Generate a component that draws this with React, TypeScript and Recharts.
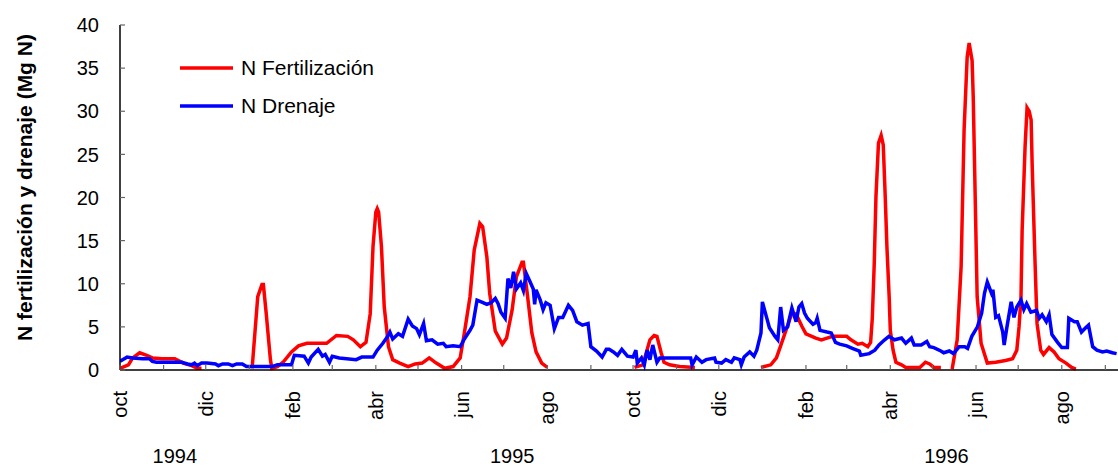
import React from 'react';
import { LineChart, Line, XAxis, YAxis, Legend } from 'recharts';

const FONT = '"Liberation Sans", Arial, Helvetica, sans-serif';

// Days counted from 1 Oct 1994
const monthStarts = [0, 31, 61, 92, 123, 151, 182, 212, 243, 273, 304, 335, 365, 396, 426, 457, 488, 517, 548, 578, 609, 639, 670, 701];
const monthLabels = ['oct', '', 'dic', '', 'feb', '', 'abr', '', 'jun', '', 'ago', '', 'oct', '', 'dic', '', 'feb', '', 'abr', '', 'jun', '', 'ago', ''];
const yearLabels = ['1994', '1995', '1996'];
const yearPos = [39, 279, 588];
const yTicks = [0, 5, 10, 15, 20, 25, 30, 35, 40];

const fertName = 'N Fertilización';
const drenName = 'N Drenaje';

const fertDays = [
  0, 6, 9, 14, 19, 23, 30, 39, 45, 51, 55, 58, 75,
  94, 98, 101, 102, 104, 107, 108, 112, 116, 122, 127, 133, 147, 154, 162, 166, 171, 175, 178, 180, 182, 183, 184, 186, 188, 191, 194, 199, 205, 210, 215, 220, 225, 231, 237, 242, 245, 249, 252, 256, 258, 261, 263, 267, 272, 275, 279, 282, 286, 287, 290, 293, 296, 300, 304, 330,
  366, 372, 377, 380, 382, 385, 387, 391, 398, 409, 430,
  456, 463, 467, 470, 474, 478, 481, 485, 488, 495, 499, 503, 507, 517, 520, 525, 528, 532, 534, 535.2, 536.6, 537.8, 539.6, 541.5, 543, 544.4, 545.6, 547.2, 548, 550, 552, 556, 559, 569, 573, 576, 579, 584, 588,
  592, 595.6, 598.4, 600.5, 602.7, 604.1, 606.2, 607, 608.4, 609.8, 612.6, 617, 623, 630, 635, 638, 639.6, 641, 641.8, 643.9, 645.3, 646.8, 648.2, 648.9, 651, 652.4, 655, 657, 661, 664.5, 668, 673, 677, 680,
];
const fertVals = [
  0.2, 0.6, 1.4, 2.0, 1.7, 1.4, 1.3, 1.3, 0.8, 0.5, 0.2, 0.2, null,
  0.2, 8.5, 9.9, 9.9, 6.6, 1.2, 0.2, 0.4, 0.9, 2.1, 2.8, 3.1, 3.1, 4.0, 3.9, 3.5, 2.7, 3.2, 6.5, 14.3, 18.3, 18.7, 18.3, 14.3, 7.3, 2.7, 1.2, 0.8, 0.4, 0.7, 0.8, 1.4, 0.8, 0.2, 0.4, 1.4, 4.3, 8.5, 13.9, 17.0, 16.6, 13.1, 8.9, 4.5, 3.0, 3.7, 7.0, 10.8, 12.5, 12.5, 8.5, 4.3, 2.1, 0.8, 0.3, null,
  0.3, 0.6, 3.5, 4.0, 3.9, 2.0, 0.9, 0.6, 0.4, 0.3, null,
  0.3, 0.6, 1.4, 2.8, 4.7, 6.6, 6.5, 5.1, 4.2, 3.7, 3.5, 3.7, 3.9, 3.9, 3.5, 3.0, 3.1, 2.7, 3.2, 6.0, 12.4, 20.1, 26.3, 27.2, 26.1, 20.1, 14.3, 8.5, 4.6, 2.3, 0.9, 0.6, 0.3, 0.3, 0.9, 0.7, 0.3, 0.3, null,
  0.1, 3.5, 12.0, 27.8, 36.3, 37.9, 35.9, 31.7, 20.1, 8.5, 3.1, 0.8, 0.9, 1.1, 1.3, 2.3, 5.0, 8.5, 16.2, 25.9, 30.4, 30.0, 29.0, 24.0, 12.4, 5.4, 2.3, 1.8, 2.6, 2.1, 1.3, 0.8, 0.3, 0.1,
];

const drenDays = [
  0, 4, 5, 9, 16, 21, 23, 26, 44, 48,
  51, 53, 55, 58, 62, 68, 70, 73, 77, 80,
  83, 87, 90, 101, 108, 112, 116, 122, 124, 131,
  134, 136, 141, 144, 146, 149, 151, 156, 168, 172,
  180, 183, 187, 190, 192, 194, 198, 201, 205, 208,
  211, 213, 216, 218, 222, 226, 230, 232, 237, 242,
  245, 249, 251, 254, 257, 261, 264, 267, 269, 271,
  274, 276, 278, 280, 282, 285, 287, 289, 291, 294,
  295, 296, 299, 301, 303, 306, 309, 312, 315, 319,
  322, 325, 329, 333, 335, 339, 343, 346, 348, 351,
  354, 357, 361, 365, 367, 368, 371, 373, 375, 377,
  379, 382, 384, 406, 407, 410, 414, 417, 423, 424,
  428, 431, 435, 437, 441, 442, 444, 448, 451, 453,
  456, 457, 460, 462, 466, 468, 470, 472, 475, 476,
  478, 481, 483, 485, 487, 489, 493, 495, 496, 498,
  503, 506, 509, 512, 517, 521, 526, 527, 533, 537,
  540, 544, 547, 551, 556, 559, 563, 565, 570, 574,
  576, 579, 584, 586, 590, 593, 597, 601, 603, 606,
  610, 613, 615, 617, 620, 621, 623, 625, 628, 629,
  631, 634, 636, 638, 641, 643, 645, 648, 652, 654,
  656, 659, 661, 663, 667, 670, 674, 675, 679, 681,
  684, 687, 689, 692, 695, 699, 702, 706, 709,
];
const drenVals = [
  1.0, 1.4, 1.5, 1.4, 1.3, 1.3, 1.0, 0.9, 0.9, 0.7,
  0.6, 0.8, 0.5, 0.8, 0.8, 0.7, 0.5, 0.7, 0.7, 0.5,
  0.7, 0.7, 0.4, 0.4, 0.4, 0.6, 0.6, 0.6, 1.7, 1.6,
  0.8, 1.5, 2.4, 1.6, 1.8, 0.9, 1.6, 1.4, 1.2, 1.5,
  1.5, 2.3, 3.1, 3.8, 4.4, 3.6, 4.2, 3.9, 5.9, 5.1,
  4.8, 4.1, 5.4, 3.4, 3.5, 3.0, 3.1, 2.7, 2.8, 2.7,
  3.6, 4.6, 5.2, 8.1, 7.9, 7.6, 7.8, 8.3, 7.7, 6.7,
  6.0, 10.6, 9.5, 11.4, 9.4, 10.1, 9.2, 11.2, 10.5, 9.4,
  7.6, 9.3, 8.1, 7.0, 7.8, 7.5, 4.8, 6.1, 6.1, 7.5,
  6.9, 5.6, 5.2, 5.4, 2.7, 2.2, 1.5, 2.4, 2.4, 2.1,
  1.7, 2.4, 1.6, 1.5, 2.3, 0.8, 1.4, 0.6, 2.3, 1.2,
  2.9, 0.9, 1.4, 1.4, 0.6, 1.5, 0.9, 1.2, 1.4, 0.9,
  0.8, 1.2, 0.9, 1.4, 1.2, 0.6, 1.5, 2.1, 1.6, 2.3,
  4.3, 7.9, 6.1, 4.9, 3.9, 3.5, 7.3, 4.6, 5.0, 5.8,
  7.2, 5.6, 7.3, 7.7, 6.6, 6.0, 5.3, 5.5, 6.0, 4.6,
  4.4, 4.3, 3.2, 3.0, 2.8, 2.5, 2.2, 1.7, 1.9, 2.3,
  2.9, 3.5, 3.9, 3.5, 3.7, 3.1, 3.7, 2.9, 2.9, 3.3,
  2.7, 2.6, 2.2, 2.0, 2.2, 1.9, 2.7, 2.7, 2.5, 3.9,
  5.0, 6.6, 8.9, 10.2, 8.9, 9.3, 6.1, 6.3, 4.4, 2.9,
  5.0, 7.9, 6.1, 7.3, 8.1, 7.0, 7.7, 6.7, 6.9, 6.0,
  6.4, 5.6, 6.4, 4.1, 3.2, 2.6, 2.6, 6.0, 5.6, 5.6,
  4.4, 4.9, 5.2, 2.7, 2.3, 2.1, 2.2, 2.0, 1.9,
];

const fertData = fertDays.map((d, i) => ({ d, v: fertVals[i] }));
const drenData = drenDays.map((d, i) => ({ d, v: drenVals[i] }));

const RED = '#FF0000';
const BLUE = '#0000FF';
const AXIS = '#000000';
const TICK = '#666666';

const MonthTick = (props: any) => {
  const { x, y, payload } = props;
  const i = monthStarts.indexOf(payload.value);
  const label = i >= 0 ? monthLabels[i] : '';
  return (
    <g>
      <line x1={x} y1={y} x2={x} y2={y - 5} stroke={TICK} strokeWidth={1.2} />
      {label ? (
        <text
          transform={`translate(${x},${y + 21}) rotate(-90)`}
          textAnchor="end"
          dy="0.35em"
          fontSize={20}
          fontFamily={FONT}
          fill="#000"
        >
          {label}
        </text>
      ) : null}
    </g>
  );
};

const YearTick = (props: any) => {
  const { x, y, payload } = props;
  const i = yearPos.indexOf(payload.value);
  return (
    <text x={x} y={y + 33} textAnchor="middle" fontSize={20} fontFamily={FONT} fill="#000">
      {i >= 0 ? yearLabels[i] : ''}
    </text>
  );
};

const YTick = (props: any) => {
  const { x, y, payload } = props;
  return (
    <g>
      <line x1={x} y1={y} x2={x + 5} y2={y} stroke={TICK} strokeWidth={1.2} />
      <text x={x - 21} y={y} dy="0.36em" textAnchor="end" fontSize={20} fontFamily={FONT} fill="#000">
        {payload.value}
      </text>
    </g>
  );
};

const renderLegend = () => {
  const items = [
    { name: fertName, color: RED },
    { name: drenName, color: BLUE },
  ];
  return (
    <div style={{ fontFamily: FONT, fontSize: 21, color: '#000' }}>
      {items.map((it, k) => (
        <div key={it.name} style={{ display: 'flex', alignItems: 'center', height: 24, marginTop: k === 0 ? 0 : 14 }}>
          <svg width={57} height={24} style={{ display: 'block' }}>
            <line x1={2} y1={12} x2={55} y2={12} stroke={it.color} strokeWidth={3.5} />
          </svg>
          <span style={{ marginLeft: 6, whiteSpace: 'nowrap' }}>{it.name}</span>
        </div>
      ))}
    </div>
  );
};

const YTitle = (props: any) => {
  const vb = props.viewBox || { x: 0, y: 25, width: 120, height: 345 };
  const cx = vb.x + 25;
  const cy = vb.y + vb.height / 2 - 10;
  return (
    <text
      transform={`translate(${cx},${cy}) rotate(-90)`}
      textAnchor="middle"
      dy="0.35em"
      fontSize={21}
      fontWeight="bold"
      fontFamily={FONT}
      fill="#000"
    >
      N fertilización y drenaje (Mg N)
    </text>
  );
};

export default function App() {
  return (
    <div style={{ position: 'absolute', left: 0, top: 0, width: 1118, height: 466, background: '#fff' }}>
      <LineChart width={1118} height={466} margin={{ top: 25, right: 0, bottom: 0, left: 0 }}>
        <XAxis
          dataKey="d"
          type="number"
          domain={[0, 710]}
          ticks={monthStarts}
          interval={0}
          allowDataOverflow
          height={60}
          tickSize={0}
          tickMargin={0}
          tickLine={false}
          axisLine={{ stroke: AXIS, strokeWidth: 1.5 }}
          tick={<MonthTick />}
        />
        <XAxis
          xAxisId="yr"
          dataKey="d"
          type="number"
          domain={[0, 710]}
          ticks={yearPos}
          interval={0}
          allowDataOverflow
          height={36}
          tickSize={0}
          tickMargin={0}
          tickLine={false}
          axisLine={false}
          tick={<YearTick />}
        />
        <YAxis
          type="number"
          domain={[0, 40]}
          ticks={yTicks}
          interval={0}
          width={120}
          tickSize={0}
          tickMargin={0}
          tickLine={false}
          axisLine={{ stroke: AXIS, strokeWidth: 1.5 }}
          tick={<YTick />}
          label={<YTitle />}
        />
        <Legend
          content={renderLegend}
          layout="vertical"
          verticalAlign="middle"
          align="center"
          wrapperStyle={{ position: 'absolute', left: 178, top: 56, width: 240, height: 'auto' }}
        />
        <Line
          data={fertData}
          dataKey="v"
          name={fertName}
          type="linear"
          stroke={RED}
          strokeWidth={3.5}
          dot={false}
          activeDot={false}
          connectNulls={false}
          isAnimationActive={false}
        />
        <Line
          data={drenData}
          dataKey="v"
          name={drenName}
          type="linear"
          stroke={BLUE}
          strokeWidth={3.5}
          dot={false}
          activeDot={false}
          connectNulls={false}
          isAnimationActive={false}
        />
      </LineChart>
    </div>
  );
}
